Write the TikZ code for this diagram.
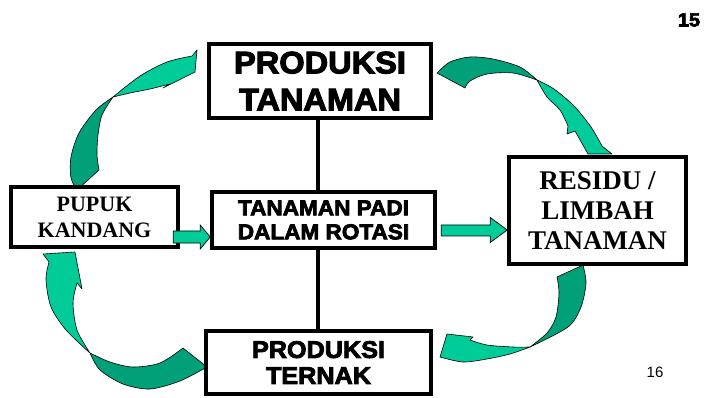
\documentclass[tikz,border=0pt]{standalone}
\usepackage{fontspec}
\usetikzlibrary{calc}
\newfontfamily\heavyfont{Liberation Sans Bold}[FakeBold=3.5, FakeStretch=1.05]
\newfontfamily\serifb{Liberation Serif}
\newfontfamily\sansr{Liberation Sans}
\definecolor{lgreen}{RGB}{0,204,153}
\definecolor{dgreen}{RGB}{0,160,120}
\tikzset{
  box/.style={draw=black, line width=3.5pt, fill=white, inner sep=0pt, align=center},
  stem/.style={draw=black, line width=4pt},
  lightpart/.style={fill=lgreen, draw=black, line width=0.6pt, line join=round},
  darkpart/.style={fill=dgreen, draw=black, line width=0.6pt, line join=round},
  blockarrow/.style={fill=lgreen, draw=black, line width=0.7pt, line join=miter}
}
\begin{document}
\begin{tikzpicture}[x=1pt,y=-1pt]
\useasboundingbox[fill=white] (0,0) rectangle (704,398);

% curved arrow 1: pupuk -> produksi tanaman
\path[darkpart] plot[smooth] coordinates {(77,190)(71,178)(71,157)(79,133)(96,110)(113,97)}
  -- plot[smooth] coordinates {(113,97)(102,115)(98,135)(97,155)(99,170)} -- cycle;
\path[lightpart] plot[smooth] coordinates {(113,97)(140,76)(167,62)(192,56)}
  -- (197,50) -- (195,72) -- (163,88) -- (170,84)
  -- plot[smooth] coordinates {(170,84)(150,89)(130,93)(113,97)} -- cycle;

% curved arrow 2: produksi tanaman -> residu
\path[darkpart] plot[smooth] coordinates {(437,73)(450,62)(470,57)(493,59)(520,67)(537,80)}
  -- plot[smooth] coordinates {(537,80)(513,73)(487,74)(470,81)(465,88)} -- cycle;
\path[lightpart] plot[smooth] coordinates {(537,80)(554,89)(574,106)(591,127)(602,146)}
  -- (612,154) -- (588,154) -- (575,131) -- (567,134) -- (568,126)
  -- plot[smooth] coordinates {(568,126)(560,110)(547,97)(537,80)} -- cycle;

% curved arrow 3: residu -> produksi ternak
\path[darkpart] plot[smooth] coordinates {(583,265)(586,283)(581,307)(568,327)(530,347)}
  -- plot[smooth] coordinates {(530,347)(547,333)(556,317)(559,293)(557,277)} -- cycle;
\path[lightpart] plot[smooth] coordinates {(530,347)(510,354)(487,359)(463,362)(440,357)}
  -- (447,334) -- (473,337) -- (470,340)
  -- plot[smooth] coordinates {(470,340)(487,345)(513,347)(530,347)} -- cycle;

% curved arrow 4: produksi ternak -> pupuk
\path[darkpart] plot[smooth] coordinates {(207,367)(180,381)(150,389)(123,384)(100,370)(90,353)}
  -- plot[smooth] coordinates {(90,353)(110,362)(133,367)(160,363)(183,348)} -- cycle;
\path[lightpart] plot[smooth] coordinates {(90,353)(66,330)(51,307)(46,280)(49,262)}
  -- (43,254) -- (75,252) -- (82,289) -- (77,283)
  -- plot[smooth] coordinates {(77,283)(73,303)(77,330)(90,353)} -- cycle;

% boxes
\node[box, minimum width=222pt, minimum height=74pt,
      font=\heavyfont\fontsize{31}{37}\selectfont] (tanam) at (320,81) {PRODUKSI\\TANAMAN};
\node[box, minimum width=223pt, minimum height=56pt,
      font=\heavyfont\fontsize{21.5}{24}\selectfont] (padi) at (323.5,220) {TANAMAN PADI\\DALAM ROTASI};
\node[box, minimum width=167pt, minimum height=60pt,
      font=\serifb\bfseries\fontsize{22}{26}\selectfont] (pupuk) at (94.5,217) {PUPUK\\KANDANG};
\node[box, minimum width=177pt, minimum height=107pt,
      font=\serifb\bfseries\fontsize{27}{30}\selectfont] (residu) at (597.5,210.5) {RESIDU /\\LIMBAH\\TANAMAN};
\node[box, minimum width=225pt, minimum height=63pt,
      font=\heavyfont\fontsize{24}{26}\selectfont] (ternak) at (318.5,362.5) {PRODUKSI\\TERNAK};

% vertical stems
\coordinate (vx) at (318,0);
\draw[stem] (tanam.south -| vx) -- (padi.north -| vx);
\draw[stem] (padi.south -| vx) -- (ternak.north -| vx);

% straight block arrows
\begin{scope}[shift={(padi.west)}]
\draw[blockarrow] (-37,11) -- (-10,11) -- (-10,5) -- (0,17) -- (-10,29) -- (-10,23) -- (-37,23) -- cycle;
\end{scope}
\begin{scope}[shift={(residu.west)}]
\draw[blockarrow] (-66,14.5) -- (-17,14.5) -- (-17,7) -- (0,19.5) -- (-17,32) -- (-17,25.5) -- (-66,25.5) -- cycle;
\end{scope}

% page numbers
\node[font=\heavyfont\fontsize{19}{20}\selectfont, inner sep=0pt] (p15) at (689,20) {15};
\node[font=\sansr\fontsize{15}{16}\selectfont, inner sep=0pt] (p16) at (655,372) {16};
\end{tikzpicture}
\end{document}
